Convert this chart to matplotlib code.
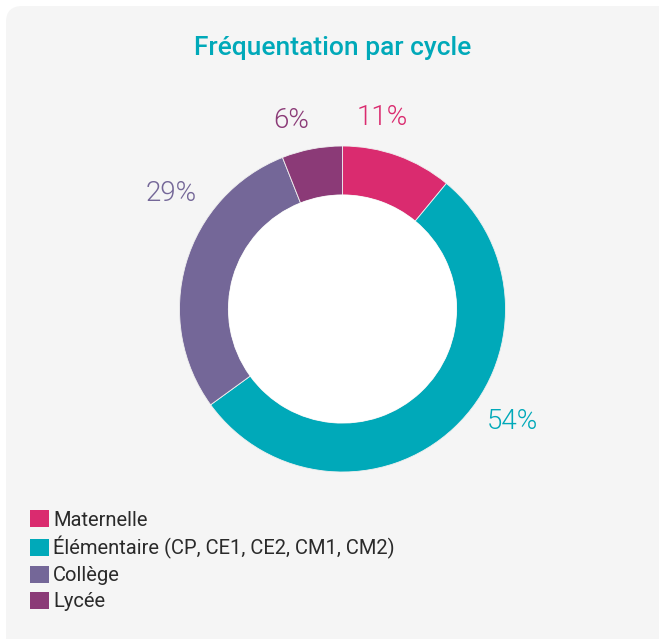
import matplotlib
matplotlib.use("Agg")
import matplotlib.pyplot as plt
import numpy as np
from matplotlib.patches import FancyBboxPatch, Patch

categories = ["Maternelle", "Élémentaire (CP, CE1, CE2, CM1, CM2)", "Collège", "Lycée"]
values = [11, 54, 29, 6]
pct_labels = ["11%", "54%", "29%", "6%"]
colors = ["#da2b6f", "#00a9b9", "#746798", "#8b3a77"]
title = "Fréquentation par cycle"

# label placement (angle in degrees, radius in units of outer radius)
label_angles = [78.3, -33.4, 146.0, 105.2]
label_radii = [1.20, 1.25, 1.27, 1.20]

W, H = 659, 639
fig = plt.figure(figsize=(W / 100, H / 100), dpi=100)
fig.patch.set_facecolor("white")

panel = FancyBboxPatch((6 / W, -0.05), 1.1, 1 - 6 / H + 0.05,
                       boxstyle="round,pad=0,rounding_size=0.025",
                       transform=fig.transFigure, facecolor="#f5f5f5",
                       edgecolor="none", zorder=-10)
fig.patches.append(panel)

cx, cy, R = 342.5, 309, 163
half = R * 1.4
ax = fig.add_axes([(cx - half) / W, (H - cy - half) / H, 2 * half / W, 2 * half / H])
ax.set_zorder(5)
ax.patch.set_visible(False)

wedges, _ = ax.pie(values, colors=colors, startangle=90, counterclock=False,
                   radius=1.0, wedgeprops=dict(width=0.30, edgecolor="#f0f0f0", linewidth=0.6))
ax.add_patch(plt.Circle((0, 0), 0.70, facecolor="white", edgecolor="none", zorder=3))
ax.set_xlim(-1.4, 1.4)
ax.set_ylim(-1.4, 1.4)
ax.set_aspect("equal")
ax.axis("off")

for lab, ang, r, c in zip(pct_labels, label_angles, label_radii, colors):
    a = np.deg2rad(ang)
    ax.text(r * np.cos(a), r * np.sin(a), lab, color=c, fontsize=20,
            family="Roboto", fontweight=300, ha="center", va="center")

fig.text(333 / W, 1 - 48 / H, title, color="#00a9b9", fontsize=19,
         family="Roboto", fontweight="medium", ha="center", va="center")

handles = [Patch(facecolor=c, edgecolor="none") for c in colors]
leg = fig.legend(handles, categories, loc="upper left",
                 bbox_to_anchor=(30 / W, 1 - 510 / H), frameon=False,
                 prop=dict(family="Roboto", size=14.5), handlelength=0.95,
                 handleheight=0.95, handletextpad=0.2, labelspacing=0.32,
                 borderaxespad=0, borderpad=0)
for t in leg.get_texts():
    t.set_color("#2a2a2a")

fig.savefig("out.png", dpi=100)
